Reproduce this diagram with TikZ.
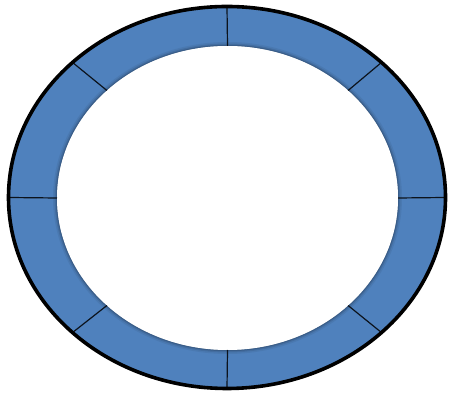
\documentclass[tikz,border=0pt]{standalone}
\usepackage{tikz}
\usetikzlibrary{calc}

\definecolor{ringblue}{RGB}{79,129,189}

\begin{document}
\begin{tikzpicture}[x=1pt, y=1pt]
    \useasboundingbox (0,0) rectangle (449,395);
    \coordinate (oc) at (227,197.5);
    \coordinate (ic) at (227.5,197);
    % blue ring
    \fill[ringblue, even odd rule] (oc) ellipse [x radius=218.5, y radius=191]
      (ic) ellipse [x radius=170.5, y radius=152];
    % soft shade along the inner edge
    \begin{scope}
      \clip (oc) ellipse [x radius=218.5, y radius=191];
      \foreach \w/\o in {8/0.12, 5/0.2, 2.5/0.35} {
        \draw[ringblue!50!black, line width=\w pt, opacity=\o] (ic) ellipse [x radius=170.5, y radius=152];
      }
      \fill[white] (ic) ellipse [x radius=170.5, y radius=152];
    \end{scope}
    % dividers between the eight parts
    \foreach \a in {0,45,...,315} {
      \draw[line width=1.2pt, black!85!ringblue]
        ($(ic)+({170.5*cos(\a)},{152*sin(\a)})$) -- ($(oc)+({218.5*cos(\a)},{191*sin(\a)})$);
    }
    % outline
    \draw[line width=3.6pt] (oc) ellipse [x radius=218.5, y radius=191];
\end{tikzpicture}
\end{document}
